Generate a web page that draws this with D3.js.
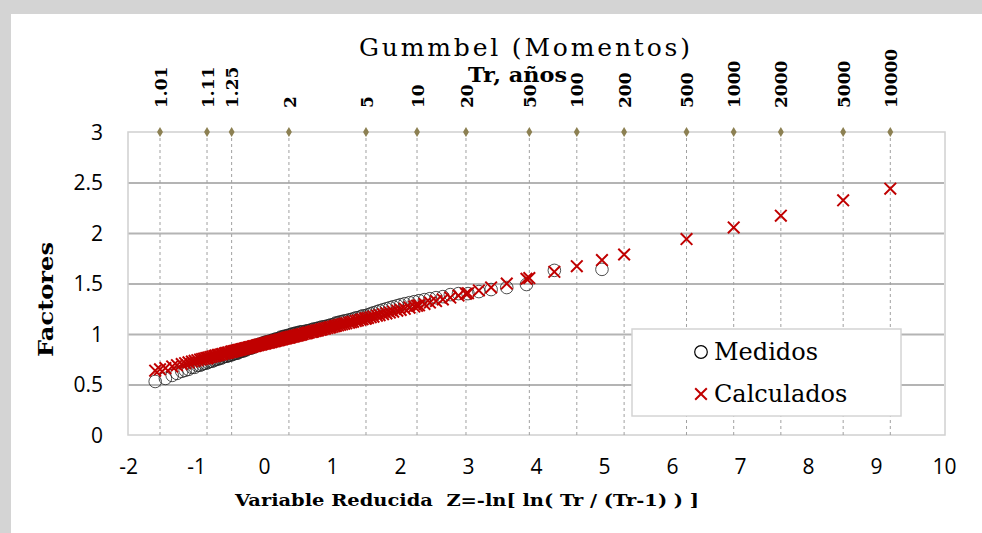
<!DOCTYPE html>
<html lang="es">
<head>
<meta charset="UTF-8">
<title>Gummbel (Momentos)</title>
<script src="https://d3js.org/d3.v7.min.js"></script>
<style>
  body { margin: 0; background: #fff; }
  .num { font-family: "Open Sans", sans-serif; font-size: 21px; fill: #000; }
  .serif { font-family: "DejaVu Serif", serif; fill: #000; }
</style>
</head>
<body>
<svg id="chart" width="982" height="533"></svg>
<script>
// periodos de retorno del eje superior
const trLabels = ["1.01", "1.11", "1.25", "2", "5", "10", "20", "50", "100", "200", "500", "1000", "2000", "5000", "10000"];

// variable reducida de cada dato medido
const zVals = [
  -1.60, -1.45, -1.35, -1.28, -1.21, -1.16, -1.11, -1.06, -1.02, -0.98,
  -0.94, -0.91, -0.88, -0.85, -0.82, -0.79, -0.76, -0.73, -0.71, -0.68,
  -0.66, -0.63, -0.61, -0.58, -0.56, -0.54, -0.52, -0.49, -0.47, -0.45,
  -0.43, -0.41, -0.39, -0.37, -0.35, -0.33, -0.31, -0.29, -0.27, -0.25,
  -0.23, -0.21, -0.19, -0.17, -0.15, -0.13, -0.11, -0.09, -0.08, -0.06,
  -0.04, -0.02, 0.00, 0.02, 0.04, 0.06, 0.08, 0.10, 0.11, 0.13,
  0.15, 0.17, 0.19, 0.21, 0.23, 0.25, 0.27, 0.29, 0.31, 0.33,
  0.35, 0.37, 0.39, 0.41, 0.43, 0.45, 0.47, 0.49, 0.51, 0.53,
  0.55, 0.57, 0.60, 0.62, 0.64, 0.66, 0.69, 0.71, 0.73, 0.76,
  0.78, 0.80, 0.83, 0.85, 0.88, 0.90, 0.93, 0.96, 0.98, 1.01,
  1.04, 1.06, 1.09, 1.12, 1.15, 1.18, 1.21, 1.25, 1.28, 1.31,
  1.35, 1.38, 1.42, 1.45, 1.49, 1.53, 1.57, 1.61, 1.66, 1.70,
  1.75, 1.80, 1.85, 1.90, 1.96, 2.01, 2.07, 2.14, 2.21, 2.28,
  2.36, 2.44, 2.53, 2.63, 2.74, 2.86, 3.00, 3.16, 3.34, 3.57,
  3.86, 4.27, 4.97
];

const medidos = [
  0.53, 0.56, 0.59, 0.61, 0.63, 0.64, 0.65, 0.67, 0.67, 0.69,
  0.69, 0.70, 0.71, 0.71, 0.72, 0.73, 0.73, 0.74, 0.75, 0.75,
  0.76, 0.76, 0.77, 0.78, 0.78, 0.78, 0.79, 0.79, 0.80, 0.80,
  0.81, 0.81, 0.81, 0.82, 0.83, 0.83, 0.83, 0.84, 0.84, 0.85,
  0.86, 0.86, 0.86, 0.87, 0.87, 0.88, 0.89, 0.89, 0.89, 0.90,
  0.90, 0.91, 0.91, 0.92, 0.92, 0.92, 0.93, 0.93, 0.93, 0.94,
  0.94, 0.95, 0.95, 0.95, 0.96, 0.97, 0.97, 0.97, 0.98, 0.98,
  0.98, 0.99, 0.99, 1.00, 1.00, 1.00, 1.01, 1.01, 1.01, 1.02,
  1.02, 1.02, 1.02, 1.03, 1.03, 1.03, 1.04, 1.04, 1.05, 1.05,
  1.05, 1.06, 1.06, 1.07, 1.07, 1.07, 1.08, 1.08, 1.09, 1.09,
  1.10, 1.11, 1.11, 1.12, 1.12, 1.13, 1.13, 1.14, 1.14, 1.15,
  1.16, 1.16, 1.17, 1.18, 1.18, 1.19, 1.20, 1.21, 1.22, 1.23,
  1.24, 1.25, 1.26, 1.27, 1.28, 1.29, 1.30, 1.31, 1.32, 1.33,
  1.34, 1.35, 1.36, 1.37, 1.39, 1.40, 1.40, 1.42, 1.44, 1.46,
  1.49, 1.63, 1.64
];

const calculados = [
  0.637, 0.662, 0.679, 0.691, 0.702, 0.711, 0.719, 0.727, 0.734, 0.741,
  0.747, 0.752, 0.757, 0.762, 0.767, 0.772, 0.777, 0.782, 0.786, 0.791,
  0.794, 0.799, 0.802, 0.807, 0.811, 0.814, 0.817, 0.822, 0.826, 0.829,
  0.832, 0.836, 0.839, 0.842, 0.846, 0.849, 0.852, 0.856, 0.859, 0.862,
  0.866, 0.869, 0.872, 0.876, 0.879, 0.882, 0.886, 0.889, 0.891, 0.894,
  0.897, 0.901, 0.904, 0.907, 0.911, 0.914, 0.917, 0.921, 0.922, 0.926,
  0.929, 0.932, 0.936, 0.939, 0.942, 0.946, 0.949, 0.952, 0.956, 0.959,
  0.962, 0.966, 0.969, 0.972, 0.976, 0.979, 0.982, 0.986, 0.989, 0.992,
  0.996, 0.999, 1.004, 1.007, 1.011, 1.014, 1.019, 1.022, 1.026, 1.031,
  1.034, 1.037, 1.042, 1.046, 1.051, 1.054, 1.059, 1.064, 1.067, 1.072,
  1.077, 1.081, 1.086, 1.091, 1.096, 1.101, 1.106, 1.112, 1.117, 1.122,
  1.129, 1.134, 1.141, 1.146, 1.152, 1.159, 1.166, 1.172, 1.181, 1.187,
  1.196, 1.204, 1.212, 1.221, 1.231, 1.239, 1.249, 1.261, 1.272, 1.284,
  1.297, 1.311, 1.326, 1.342, 1.361, 1.381, 1.404, 1.431, 1.461, 1.499,
  1.547, 1.616, 1.732
];

// factores calculados en cada periodo de retorno del eje superior
const calcTr = [1.01, 1.11, 1.25, 2, 5, 10, 20, 50, 100, 200, 500, 1000, 2000, 5000, 10000];
const calcTrK = [0.650, 0.758, 0.825, 0.965, 1.154, 1.279, 1.399, 1.554, 1.671, 1.787, 1.940, 2.055, 2.171, 2.324, 2.439];

const yTicks = [0, 0.5, 1, 1.5, 2, 2.5, 3];
const xTicks = [-2, -1, 0, 1, 2, 3, 4, 5, 6, 7, 8, 9, 10];

const svg = d3.select("#chart");
const W = 982, H = 533;
const plot = { left: 128, right: 944, top: 132, bottom: 435 };

// Tr -> variable reducida
const reduced = T => -Math.log(Math.log(T / (T - 1)));

const x = d3.scaleLinear().domain([-2, 10]).range([plot.left, plot.right]);
const y = d3.scaleLinear().domain([0, 3]).range([plot.bottom, plot.top]);

// marco
svg.append("rect").attr("width", W).attr("height", H).attr("fill", "#d4d4d4");
svg.append("rect").attr("x", 11).attr("y", 14).attr("width", W - 11).attr("height", H - 14).attr("fill", "#fff");

// rejilla horizontal
svg.append("g")
  .attr("transform", `translate(${plot.left},0)`)
  .call(d3.axisLeft(y).tickValues(yTicks.slice(1, -1)).tickSize(-(plot.right - plot.left)).tickFormat(""))
  .call(g => g.select(".domain").remove())
  .call(g => g.selectAll("line").attr("stroke", "#b4b4b4").attr("stroke-width", 2));

// borde del area de trazado
svg.append("rect")
  .attr("x", plot.left).attr("y", plot.top)
  .attr("width", plot.right - plot.left + 1).attr("height", plot.bottom - plot.top)
  .attr("fill", "none").attr("stroke", "#d0d0d0").attr("stroke-width", 1.5);

// lineas verticales de Tr
const trZ = trLabels.map(t => reduced(+t));
svg.append("g").selectAll("line")
  .data(trZ).enter().append("line")
  .attr("x1", d => x(d)).attr("x2", d => x(d))
  .attr("y1", y(3)).attr("y2", y(0))
  .attr("stroke", "#a0a0a0").attr("stroke-width", 1)
  .attr("stroke-dasharray", "3,3");

// eje superior Tr
const topAxis = svg.append("g")
  .attr("transform", `translate(0,${plot.top})`)
  .call(d3.axisTop(x).tickValues(trZ).tickSize(0).tickFormat((d, i) => trLabels[i]))
  .call(g => g.select(".domain").remove());
topAxis.selectAll("text")
  .attr("class", "serif")
  .attr("transform", "rotate(-90)")
  .attr("x", 24).attr("y", 0).attr("dy", "0.36em")
  .style("text-anchor", "start")
  .style("font-size", "17px").style("font-weight", "bold")
  .style("font-family", "DejaVu Serif, serif");

svg.append("g").selectAll("path")
  .data(trZ).enter().append("path")
  .attr("d", d3.symbol(d3.symbolDiamond, 30))
  .attr("transform", d => `translate(${x(d)},${y(3)})`)
  .attr("fill", "#8c8052");

// ejes numericos
svg.append("g")
  .attr("transform", `translate(0,${plot.bottom})`)
  .call(d3.axisBottom(x).tickValues(xTicks).tickSize(0).tickFormat(d => String(d)))
  .call(g => g.select(".domain").remove())
  .call(g => g.selectAll("text").attr("class", "num").attr("y", 24).attr("dy", "0.71em"));

svg.append("g")
  .attr("transform", `translate(${plot.left},0)`)
  .call(d3.axisLeft(y).tickValues(yTicks).tickSize(0).tickFormat(d => String(d)))
  .call(g => g.select(".domain").remove())
  .call(g => g.selectAll("text").attr("class", "num").attr("x", -25).attr("dy", "0.34em"));

// series
const cross = d3.symbol(d3.symbolX, 90);
svg.append("g").selectAll("circle")
  .data(zVals).enter().append("circle")
  .attr("cx", d => x(d))
  .attr("cy", (d, i) => y(medidos[i]))
  .attr("r", 6.3)
  .attr("fill", "none").attr("stroke", "#222").attr("stroke-width", 0.8);

const calcPts = zVals.map((z, i) => [z, calculados[i]])
  .concat(calcTr.map((t, i) => [reduced(t), calcTrK[i]]));
svg.append("g").selectAll("path")
  .data(calcPts).enter().append("path")
  .attr("d", cross)
  .attr("transform", d => `translate(${x(d[0])},${y(d[1])})`)
  .attr("fill", "none").attr("stroke", "#c00000").attr("stroke-width", 2);

// titulos
svg.append("text").attr("class", "serif")
  .attr("x", 359).attr("y", 56)
  .attr("textLength", 331).attr("lengthAdjust", "spacing")
  .style("font-size", "25px")
  .text("Gummbel (Momentos)");

svg.append("text").attr("class", "serif")
  .attr("x", 468).attr("y", 82)
  .attr("textLength", 99).attr("lengthAdjust", "spacingAndGlyphs")
  .style("font-size", "21px").style("font-weight", "bold")
  .text("Tr, años");

svg.append("text").attr("class", "serif")
  .attr("transform", "translate(53,357) rotate(-90)")
  .attr("textLength", 115).attr("lengthAdjust", "spacingAndGlyphs")
  .style("font-size", "21px").style("font-weight", "bold")
  .text("Factores");

svg.append("text").attr("class", "serif")
  .attr("x", 235).attr("y", 506)
  .attr("textLength", 464).attr("lengthAdjust", "spacingAndGlyphs")
  .style("font-size", "16px").style("font-weight", "bold")
  .style("white-space", "pre")
  .text("Variable Reducida  Z=-ln[ ln( Tr / (Tr-1) ) ]");

// leyenda
const leg = svg.append("g");
leg.append("rect").attr("x", 632).attr("y", 329).attr("width", 269).attr("height", 87)
  .attr("fill", "#fff").attr("stroke", "#d4d4d4").attr("stroke-width", 1.5);
leg.append("circle").attr("cx", 701).attr("cy", 352).attr("r", 6.3)
  .attr("fill", "none").attr("stroke", "#000").attr("stroke-width", 1.2);
leg.append("path").attr("d", cross).attr("transform", "translate(701,394)")
  .attr("fill", "none").attr("stroke", "#c00000").attr("stroke-width", 2);
leg.append("text").attr("class", "serif").attr("x", 714).attr("y", 360)
  .style("font-size", "24px").text("Medidos");
leg.append("text").attr("class", "serif").attr("x", 714).attr("y", 402)
  .style("font-size", "24px").text("Calculados");
</script>
</body>
</html>
